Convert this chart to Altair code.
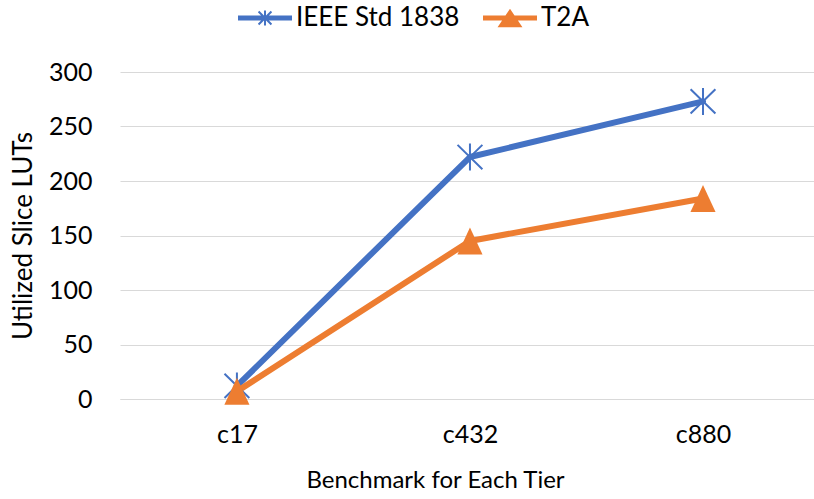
import altair as alt
import pandas as pd

# Benchmarks (x categories) and utilized slice LUT counts per design
benchmarks = ["c17", "c432", "c880"]
series_names = ["IEEE Std 1838", "T2A"]
ieee_1838_luts = [12, 222, 273]
t2a_luts = [7, 145, 184]
y_ticks = [0, 50, 100, 150, 200, 250, 300]

rows = []
for name, values in zip(series_names, [ieee_1838_luts, t2a_luts]):
    for bench, val in zip(benchmarks, values):
        rows.append({"Benchmark": bench, "Series": name, "LUTs": val})
df = pd.DataFrame(rows)

BLUE = "#4472C4"
ORANGE = "#ED7D31"
GRID = "#D9D9D9"
FONT = "Lato"

# marker shapes (unit square paths)
ASTERISK = "M-0.92,-0.9L0.92,0.9M-0.92,0.9L0.92,-0.9M0,-1V1"
TRIANGLE = "M0,-1L0.93,1H-0.93Z"
# legend swatches: filled line segment with the marker on top; the segment
# runs past the unit square so the swatch stays short in height
# (asterisk spokes drawn as thin filled bars, all wound the same way)
LEG_ASTERISK = (
    "M-1.8,-0.162H1.8V0.162H-1.8Z"
    "M-0.067,-0.5H0.067V0.5H-0.067Z"
    "M-0.383,-0.477L0.477,0.383L0.383,0.477L-0.477,-0.383Z"
    "M-0.477,0.383L0.383,-0.477L0.477,-0.383L-0.383,0.477Z"
)
LEG_TRIANGLE = "M-1.8,-0.162H1.8V0.162H-1.8ZM0,-0.61L0.83,0.61H-0.83Z"

W, H = 694, 327

x_enc = alt.X(
    "Benchmark:N",
    sort=benchmarks,
    scale=alt.Scale(type="point", padding=0.489, align=0.513),
    axis=alt.Axis(
        title="Benchmark for Each Tier",
        labelAngle=0,
        labelFont=FONT,
        labelFontSize=25,
        labelColor="#000000",
        labelPadding=23,
        ticks=False,
        tickSize=0,
        domain=True,
        domainColor=GRID,
        domainWidth=1,
        grid=False,
        titleFont=FONT,
        titleFontSize=24,
        titleFontWeight="normal",
        titleColor="#000000",
        titleX=315,
        titleY=81,
        titleBaseline="middle",
        titleAnchor="middle",
    ),
)
y_enc = alt.Y(
    "LUTs:Q",
    scale=alt.Scale(domain=[0, 300], nice=False, zero=True),
    axis=alt.Axis(
        title="Utilized Slice LUTs",
        values=y_ticks,
        labelFont=FONT,
        labelFontSize=25,
        labelColor="#000000",
        labelPadding=28,
        ticks=False,
        tickSize=0,
        domain=False,
        grid=True,
        gridColor=GRID,
        gridWidth=1,
        titleFont=FONT,
        titleFontSize=26,
        titleFontWeight="normal",
        titleColor="#000000",
        titleAngle=270,
        titleX=-97,
        titleY=H / 2,
        titleBaseline="middle",
        titleAnchor="middle",
    ),
)

color_scale = alt.Scale(domain=series_names, range=[BLUE, ORANGE])

base = alt.Chart(df)

lines = base.mark_line(strokeWidth=6, strokeJoin="round", strokeCap="round").encode(
    x=x_enc,
    y=y_enc,
    color=alt.Color("Series:N", scale=color_scale, legend=None),
    detail="Series:N",
)

ieee_pts = base.transform_filter(alt.datum.Series == series_names[0]).mark_point(
    shape=ASTERISK, size=729, filled=False, strokeWidth=2, color=BLUE, opacity=1
).encode(x=x_enc, y=y_enc)

t2a_pts = base.transform_filter(alt.datum.Series == series_names[1]).mark_point(
    shape=TRIANGLE, size=729, filled=True, color=ORANGE, opacity=1
).encode(x=x_enc, y=y_enc)


def legend_entry(name, path, color, x_pos):
    """One-entry legend drawn from a layer whose rows are all filtered away."""
    leg = alt.Legend(
        title=None,
        orient="none",
        legendX=x_pos,
        legendY=-69,
        labelFont=FONT,
        labelFontSize=26,
        labelColor="#000000",
        labelLimit=400,
        labelOffset=16,
        symbolSize=900,
        symbolStrokeWidth=0,
        symbolFillColor=color,
        padding=0,
    )
    return (
        base.transform_filter(alt.datum.Series == name)
        .transform_filter("false")
        .mark_point(filled=True, strokeWidth=0, color=color, opacity=1)
        .encode(
            x=x_enc,
            y=y_enc,
            shape=alt.Shape(
                "Series:N",
                scale=alt.Scale(domain=[name], range=[path]),
                legend=leg,
            ),
        )
    )


leg_ieee = legend_entry(series_names[0], LEG_ASTERISK, BLUE, 130)
leg_t2a = legend_entry(series_names[1], LEG_TRIANGLE, ORANGE, 375)

chart = (
    alt.layer(lines, ieee_pts, t2a_pts, leg_ieee, leg_t2a)
    .resolve_scale(shape="independent")
    .resolve_legend(shape="independent")
    .properties(
        width=W,
        height=H,
        autosize=alt.AutoSizeParams(type="none"),
        padding={"left": 120, "top": 72, "right": 0, "bottom": 100},
        background="#FFFFFF",
    )
    .configure_view(stroke=None)
)

chart.save("out.html", embed_options={"renderer": "svg", "actions": False})
